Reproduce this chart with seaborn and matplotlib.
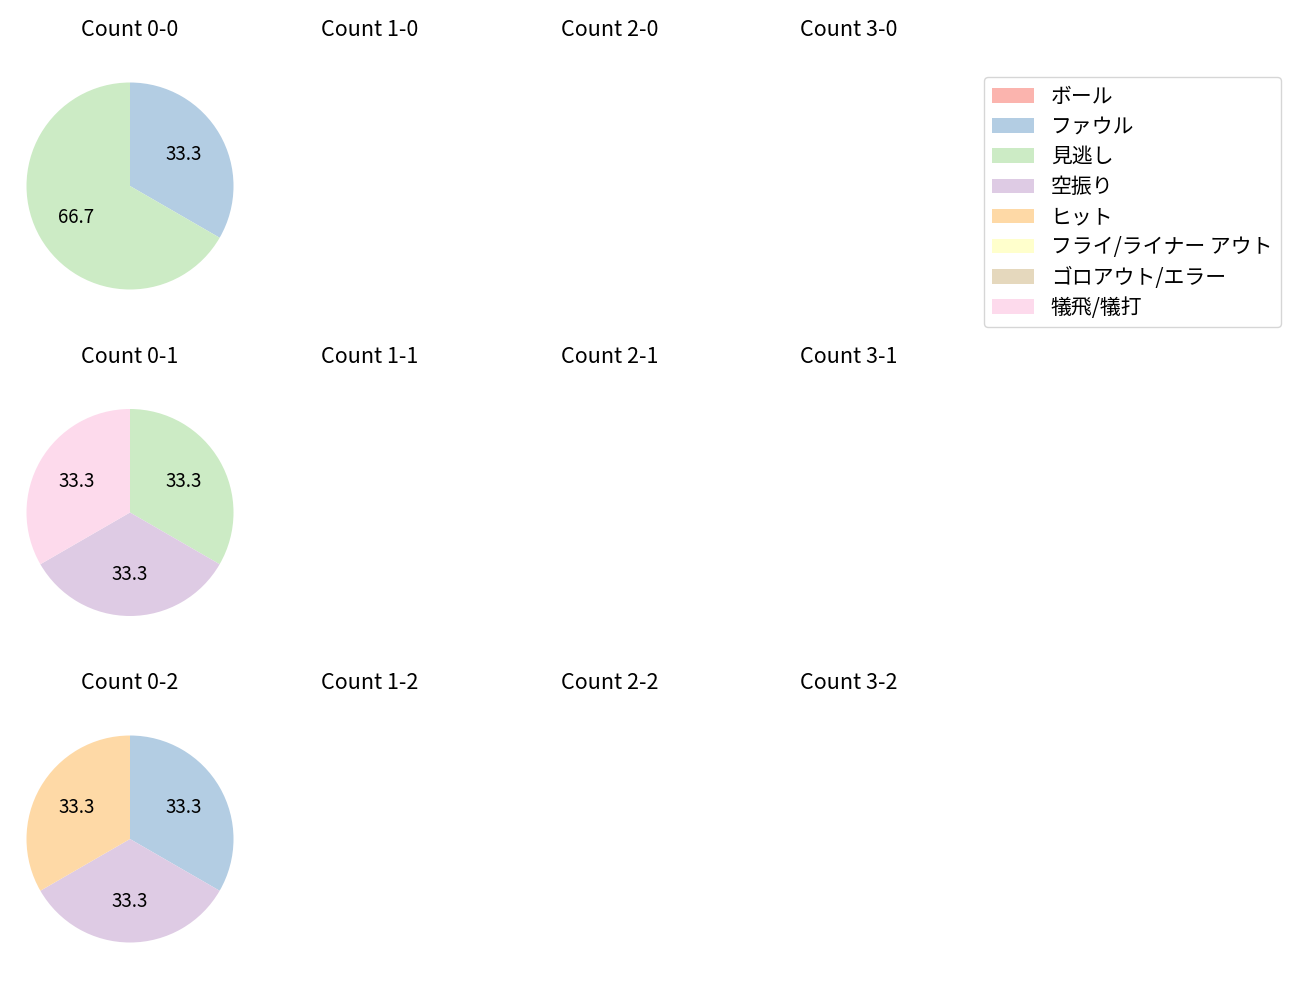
import matplotlib
matplotlib.use("Agg")
import matplotlib.pyplot as plt
from matplotlib.patches import Patch
import seaborn as sns

sns.set_style("white")
plt.rcParams['font.family'] = ['Noto Sans CJK JP', 'DejaVu Sans']
plt.rcParams['text.color'] = 'black'

categories = ["ボール", "ファウル", "見逃し", "空振り", "ヒット",
              "フライ/ライナー アウト", "ゴロアウト/エラー", "犠飛/犠打"]
balls = [0, 1, 2, 3]
strikes = [0, 1, 2]
# counts per category for each (balls, strikes) situation
count_0_0 = [0, 1, 2, 0, 0, 0, 0, 0]
count_0_1 = [0, 0, 1, 1, 0, 0, 0, 1]
count_0_2 = [0, 1, 0, 1, 1, 0, 0, 0]
data = {(0, 0): count_0_0, (0, 1): count_0_1, (0, 2): count_0_2}

colors = sns.color_palette("Pastel1", len(categories))

fig, axes = plt.subplots(3, 4, figsize=(13, 10), dpi=100)
fig.subplots_adjust(left=0.01154, right=0.74154, top=0.929, bottom=0.046,
                    wspace=0.042, hspace=0.4196)

for r, s in enumerate(strikes):
    for c, b in enumerate(balls):
        ax = axes[r, c]
        ax.set_title(f"Count {b}-{s}", fontsize=15.5, pad=25, color='black')
        vals = data.get((b, s))
        if vals is not None and sum(vals) > 0:
            idx = [i for i, v in enumerate(vals) if v > 0]
            ax.pie([vals[i] for i in idx], colors=[colors[i] for i in idx],
                   startangle=90, counterclock=False, autopct='%.1f',
                   radius=1.125, pctdistance=0.6,
                   wedgeprops={'linewidth': 0},
                   textprops={'fontsize': 13.5, 'color': 'black'})
        ax.axis('off')

handles = [Patch(facecolor=colors[i], edgecolor='none', linewidth=0,
                 label=categories[i]) for i in range(len(categories))]
leg = fig.legend(handles=handles, loc='upper right', bbox_to_anchor=(0.9854, 0.923),
                 borderaxespad=0, fontsize=15, frameon=True, labelspacing=0.39,
                 borderpad=0.42)
for t in leg.get_texts():
    t.set_color('black')

fig.savefig("out.png", dpi=100)
